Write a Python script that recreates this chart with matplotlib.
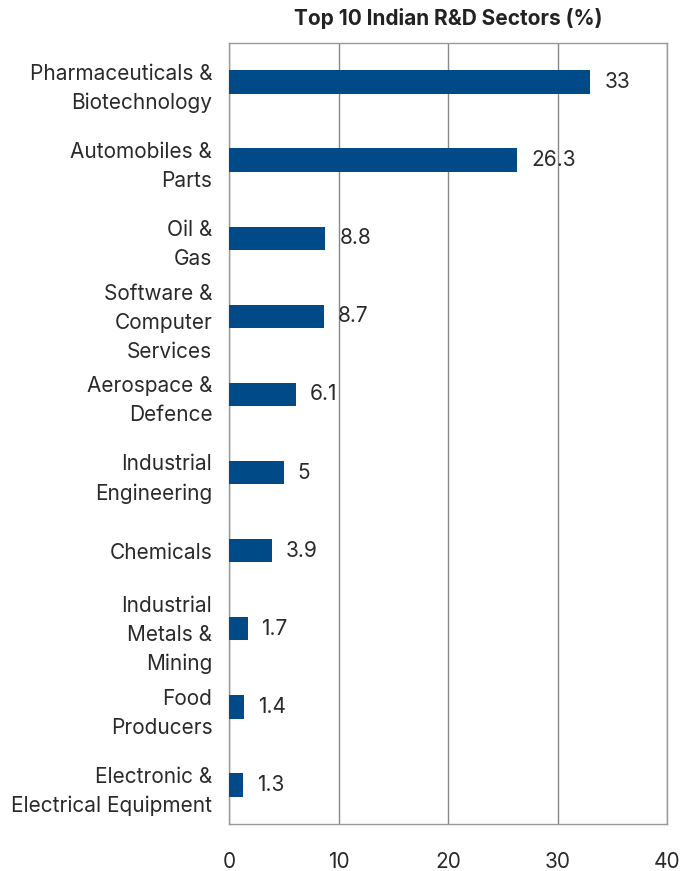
import matplotlib
matplotlib.use("Agg")
import matplotlib.pyplot as plt

categories = ["Pharmaceuticals &\nBiotechnology", "Automobiles &\nParts", "Oil &\nGas",
              "Software &\nComputer\nServices", "Aerospace &\nDefence", "Industrial\nEngineering",
              "Chemicals", "Industrial\nMetals &\nMining", "Food\nProducers",
              "Electronic &\nElectrical Equipment"]
values = [33, 26.3, 8.8, 8.7, 6.1, 5, 3.9, 1.7, 1.4, 1.3]
value_labels = ["33", "26.3", "8.8", "8.7", "6.1", "5", "3.9", "1.7", "1.4", "1.3"]
x_ticks = [0, 10, 20, 30, 40]
title = "Top 10 Indian R&D Sectors (%)"

plt.rcParams['font.family'] = ['Inter', 'DejaVu Sans']
fig = plt.figure(figsize=(6.83, 8.71), dpi=100)
ax = fig.add_axes([0.3353, 0.054, 0.6413, 0.8966])

ypos = list(range(len(categories)))
ax.barh(ypos, values, height=0.3, color="#004B87", zorder=3)
for y, v, lab in zip(ypos, values, value_labels):
    ax.annotate(lab, (v, y), xytext=(10, 0), textcoords="offset points",
                va="center", ha="left", fontsize=15, color="#2a2a2a")

ax.set_ylim(9.5, -0.5)
ax.set_xlim(0, 40)
ax.set_xticks(x_ticks)
ax.set_yticks(ypos)
ax.set_yticklabels(categories, fontsize=15, color="#2a2a2a", linespacing=1.55)
ax.tick_params(axis='x', length=0, pad=20, labelsize=15, labelcolor="#2a2a2a")
ax.tick_params(axis='y', length=0, pad=12)
ax.grid(axis='x', color="#888888", linewidth=1, zorder=0)
for s in ax.spines.values():
    s.set_color("#999999")
    s.set_linewidth(1)
ax.set_title(title, fontsize=15, fontweight="bold", color="#222222", pad=13)
fig.savefig("out.png", dpi=100)
